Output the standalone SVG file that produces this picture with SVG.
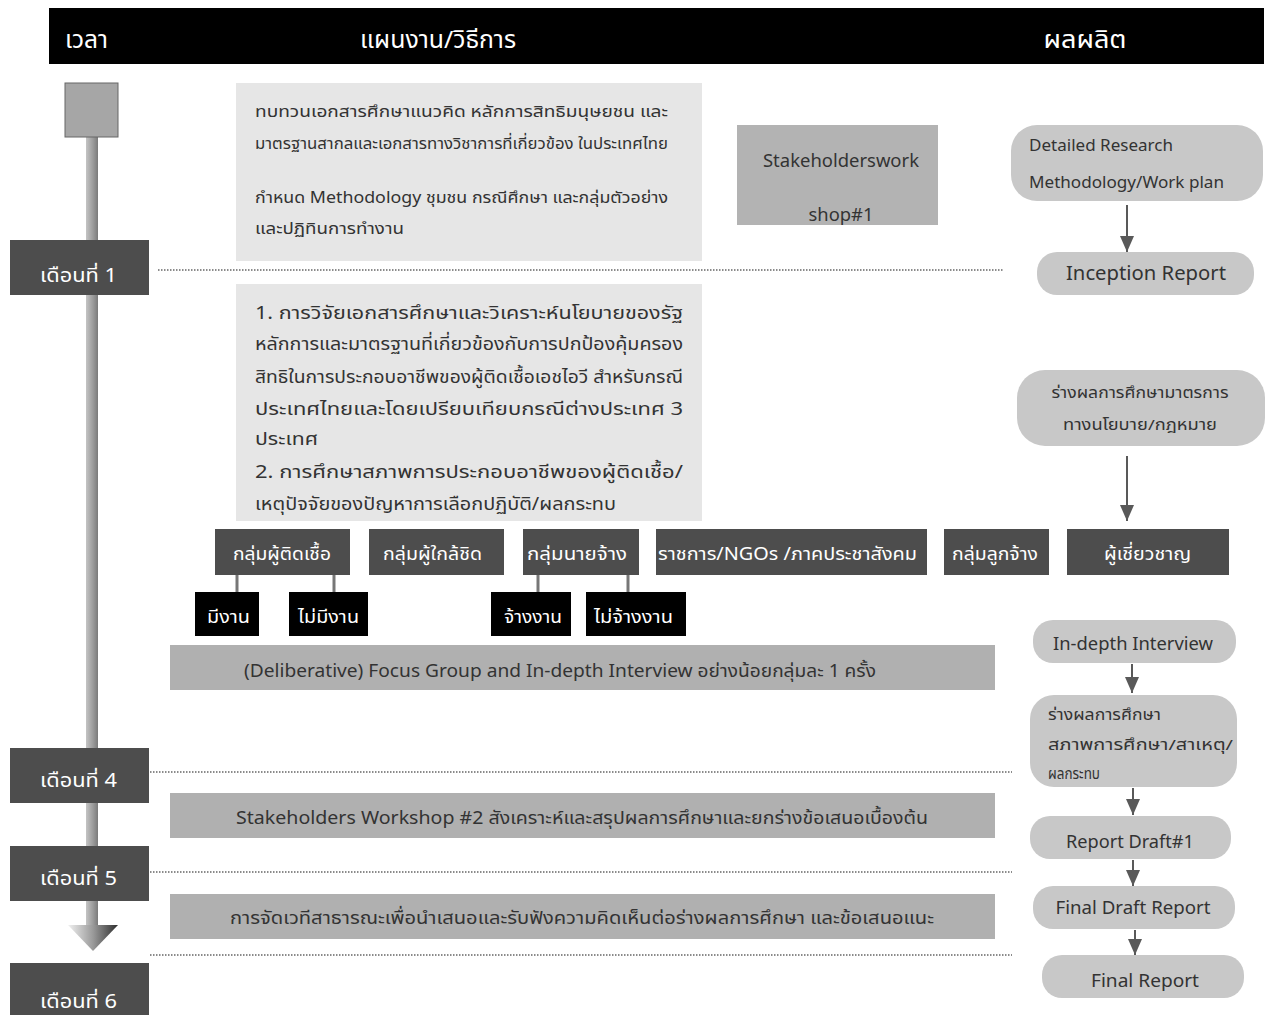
<svg xmlns="http://www.w3.org/2000/svg" width="1267" height="1015" viewBox="0 0 1267 1015">
<defs>
<style>
text{font-family:"Noto Sans","Noto Sans Thai","Liberation Sans",sans-serif;fill:#333}
.hd{fill:#fff;font-size:24px}
.mo{fill:#fff;font-size:19px}
.light{fill:#e6e6e6}
.bar{fill:#b0b0b0}
.node{fill:#c8c8c8}
.dark{fill:#4d4d4d}
.blk{fill:#000}
.wt{fill:#fff;font-size:18px}
.t15{font-size:16px}
.t16{font-size:15px}
.t18{font-size:18px}
.t20{font-size:20px}
.dot{stroke:#666;stroke-width:1.5;stroke-dasharray:1.5 1.5;fill:none}
.arr{stroke:#595959;stroke-width:2;fill:none;marker-end:url(#ah)}
.stub{stroke:#777;stroke-width:3}
</style>
<marker id="ah" markerUnits="userSpaceOnUse" markerWidth="18" markerHeight="14" refX="16" refY="7" orient="auto">
<path d="M0,0 L16,7 L0,14 Z" fill="#595959"/>
</marker>
<linearGradient id="gbar" x1="0" y1="0" x2="1" y2="0">
<stop offset="0" stop-color="#c4c4c4"/>
<stop offset="0.6" stop-color="#9a9a9a"/>
<stop offset="1" stop-color="#7a7a7a"/>
</linearGradient>
<linearGradient id="gtri" x1="0" y1="0" x2="1" y2="0">
<stop offset="0" stop-color="#f0f0f0"/>
<stop offset="0.5" stop-color="#9a9a9a"/>
<stop offset="1" stop-color="#2e2e2e"/>
</linearGradient>
</defs>

<g id="header">
<rect x="49" y="8" width="1215" height="56" fill="#000"/>
<text class="hd" x="65" y="48" textLength="43" lengthAdjust="spacingAndGlyphs">เวลา</text>
<text class="hd" x="438" y="48" text-anchor="middle" textLength="156" lengthAdjust="spacingAndGlyphs">แผนงาน/วิธีการ</text>
<text class="hd" x="1085" y="48" text-anchor="middle" textLength="83" lengthAdjust="spacingAndGlyphs">ผลผลิต</text>
</g>

<g id="timeline">
<rect x="86" y="137" width="12" height="790" fill="url(#gbar)"/>
<path d="M68,925 L118,925 L93,951 Z" fill="url(#gtri)"/>
<rect x="65" y="83" width="53" height="54" fill="#a6a6a6" stroke="#666" stroke-width="1"/>
</g>

<g id="connectors">
<line class="dot" x1="158" y1="270" x2="1003" y2="270"/>
<line class="dot" x1="150" y1="772" x2="1012" y2="772"/>
<line class="dot" x1="150" y1="872" x2="1012" y2="872"/>
<line class="dot" x1="150" y1="955" x2="1012" y2="955"/>
<line class="arr" x1="1127" y1="205" x2="1127" y2="252"/>
<line class="arr" x1="1127" y1="456" x2="1127" y2="521"/>
<line class="arr" x1="1132" y1="664" x2="1132" y2="693"/>
<line class="arr" x1="1133" y1="788" x2="1133" y2="815"/>
<line class="arr" x1="1133" y1="860" x2="1133" y2="886"/>
<line class="arr" x1="1135" y1="930" x2="1135" y2="955"/>
<line class="stub" x1="237" y1="575" x2="237" y2="592"/>
<line class="stub" x1="334" y1="575" x2="334" y2="592"/>
<line class="stub" x1="538" y1="575" x2="538" y2="592"/>
<line class="stub" x1="628" y1="575" x2="628" y2="592"/>
</g>

<g id="m1"><rect class="dark" x="10" y="240" width="139" height="55"/><text class="mo" x="40" y="282" textLength="77" lengthAdjust="spacingAndGlyphs">เดือนที่ 1</text></g>
<g id="m4"><rect class="dark" x="10" y="748" width="139" height="55"/><text class="mo" x="40" y="787" textLength="77" lengthAdjust="spacingAndGlyphs">เดือนที่ 4</text></g>
<g id="m5"><rect class="dark" x="10" y="846" width="139" height="55"/><text class="mo" x="40" y="885" textLength="77" lengthAdjust="spacingAndGlyphs">เดือนที่ 5</text></g>
<g id="m6"><rect class="dark" x="10" y="963" width="139" height="60"/><text class="mo" x="40" y="1008" textLength="77" lengthAdjust="spacingAndGlyphs">เดือนที่ 6</text></g>

<g id="box1">
<rect class="light" x="236" y="83" width="466" height="178"/>
<text class="t15" x="255" y="117" textLength="413" lengthAdjust="spacingAndGlyphs">ทบทวนเอกสารศึกษาแนวคิด  หลักการสิทธิมนุษยชน  และ</text>
<text class="t15" x="255" y="149" textLength="413" lengthAdjust="spacingAndGlyphs">มาตรฐานสากลและเอกสารทางวิชาการที่เกี่ยวข้อง ในประเทศไทย</text>
<text class="t15" x="255" y="203" textLength="413" lengthAdjust="spacingAndGlyphs">กำหนด Methodology ชุมชน กรณีศึกษา และกลุ่มตัวอย่าง</text>
<text class="t15" x="255" y="234" textLength="149" lengthAdjust="spacingAndGlyphs">และปฏิทินการทำงาน</text>
</g>

<g id="ws1">
<rect x="737" y="125" width="201" height="100" fill="#b3b3b3"/>
<text class="t18" x="841" y="167" text-anchor="middle" textLength="156" lengthAdjust="spacingAndGlyphs">Stakeholderswork</text>
<text class="t18" x="841" y="221" text-anchor="middle" textLength="65" lengthAdjust="spacingAndGlyphs">shop#1</text>
</g>

<g id="detailed">
<rect class="node" x="1011" y="125" width="252" height="76" rx="26"/>
<text class="t15" x="1029" y="151" textLength="144" lengthAdjust="spacingAndGlyphs">Detailed Research</text>
<text class="t15" x="1029" y="188" textLength="195" lengthAdjust="spacingAndGlyphs">Methodology/Work plan</text>
</g>

<g id="inception">
<rect class="node" x="1037" y="252" width="217" height="43" rx="20"/>
<text class="t20" x="1146" y="280" text-anchor="middle" textLength="160" lengthAdjust="spacingAndGlyphs">Inception Report</text>
</g>

<g id="box2">
<rect class="light" x="236" y="284" width="466" height="237"/>
<text class="t18" x="255" y="319" textLength="428" lengthAdjust="spacingAndGlyphs">1. การวิจัยเอกสารศึกษาและวิเคราะห์นโยบายของรัฐ</text>
<text class="t18" x="255" y="350" textLength="428" lengthAdjust="spacingAndGlyphs">หลักการและมาตรฐานที่เกี่ยวข้องกับการปกป้องคุ้มครอง</text>
<text class="t18" x="255" y="383" textLength="428" lengthAdjust="spacingAndGlyphs">สิทธิในการประกอบอาชีพของผู้ติดเชื้อเอชไอวี สำหรับกรณี</text>
<text class="t18" x="255" y="415" textLength="428" lengthAdjust="spacingAndGlyphs">ประเทศไทยและโดยเปรียบเทียบกรณีต่างประเทศ 3</text>
<text class="t18" x="255" y="445" textLength="63" lengthAdjust="spacingAndGlyphs">ประเทศ</text>
<text class="t18" x="255" y="478" textLength="428" lengthAdjust="spacingAndGlyphs">2. การศึกษาสภาพการประกอบอาชีพของผู้ติดเชื้อ/</text>
<text class="t18" x="255" y="510" textLength="361" lengthAdjust="spacingAndGlyphs">เหตุปัจจัยของปัญหาการเลือกปฏิบัติ/ผลกระทบ</text>
</g>

<g id="policy">
<rect class="node" x="1017" y="370" width="248" height="76" rx="28"/>
<text class="t16" x="1140" y="398" text-anchor="middle" textLength="177" lengthAdjust="spacingAndGlyphs">ร่างผลการศึกษามาตรการ</text>
<text class="t16" x="1140" y="430" text-anchor="middle" textLength="154" lengthAdjust="spacingAndGlyphs">ทางนโยบาย/กฎหมาย</text>
</g>

<g id="g1"><rect class="dark" x="215" y="529" width="135" height="46"/><text class="wt" x="233" y="560" textLength="98" lengthAdjust="spacingAndGlyphs">กลุ่มผู้ติดเชื้อ</text></g>
<g id="g2"><rect class="dark" x="369" y="529" width="135" height="46"/><text class="wt" x="383" y="560" textLength="99" lengthAdjust="spacingAndGlyphs">กลุ่มผู้ใกล้ชิด</text></g>
<g id="g3"><rect class="dark" x="523" y="529" width="116" height="46"/><text class="wt" x="527" y="560" textLength="100" lengthAdjust="spacingAndGlyphs">กลุ่มนายจ้าง</text></g>
<g id="g4"><rect class="dark" x="656" y="529" width="271" height="46"/><text class="wt" x="658" y="560" textLength="259" lengthAdjust="spacingAndGlyphs">ราชการ/NGOs /ภาคประชาสังคม</text></g>
<g id="g5"><rect class="dark" x="944" y="529" width="105" height="46"/><text class="wt" x="952" y="560" textLength="86" lengthAdjust="spacingAndGlyphs">กลุ่มลูกจ้าง</text></g>
<g id="g6"><rect class="dark" x="1067" y="529" width="162" height="46"/><text class="wt" x="1104" y="560" textLength="87" lengthAdjust="spacingAndGlyphs">ผู้เชี่ยวชาญ</text></g>

<g id="s1"><rect class="blk" x="195" y="592" width="64" height="44"/><text class="wt" x="207" y="623" textLength="43" lengthAdjust="spacingAndGlyphs">มีงาน</text></g>
<g id="s2"><rect class="blk" x="289" y="592" width="79" height="44"/><text class="wt" x="298" y="623" textLength="61" lengthAdjust="spacingAndGlyphs">ไม่มีงาน</text></g>
<g id="s3"><rect class="blk" x="491" y="592" width="80" height="44"/><text class="wt" x="504" y="623" textLength="58" lengthAdjust="spacingAndGlyphs">จ้างงาน</text></g>
<g id="s4"><rect class="blk" x="586" y="592" width="100" height="44"/><text class="wt" x="594" y="623" textLength="79" lengthAdjust="spacingAndGlyphs">ไม่จ้างงาน</text></g>

<g id="focus">
<rect class="bar" x="170" y="645" width="825" height="45"/>
<text class="t18" x="244" y="677" textLength="632" lengthAdjust="spacingAndGlyphs">(Deliberative) Focus Group and In-depth Interview อย่างน้อยกลุ่มละ 1 ครั้ง</text>
</g>

<g id="indepth">
<rect class="node" x="1033" y="620" width="203" height="43" rx="20"/>
<text class="t18" x="1133" y="650" text-anchor="middle" textLength="160" lengthAdjust="spacingAndGlyphs">In-depth Interview</text>
</g>

<g id="draftstudy">
<rect class="node" x="1030" y="695" width="207" height="92" rx="24"/>
<text class="t16" x="1048" y="720" textLength="113" lengthAdjust="spacingAndGlyphs">ร่างผลการศึกษา</text>
<text class="t16" x="1048" y="750" textLength="185" lengthAdjust="spacingAndGlyphs">สภาพการศึกษา/สาเหตุ/</text>
<text class="t16" x="1048" y="779" textLength="52" lengthAdjust="spacingAndGlyphs">ผลกระทบ</text>
</g>

<g id="ws2">
<rect class="bar" x="170" y="793" width="825" height="45"/>
<text class="t18" x="236" y="824" textLength="692" lengthAdjust="spacingAndGlyphs">Stakeholders Workshop #2 สังเคราะห์และสรุปผลการศึกษาและยกร่างข้อเสนอเบื้องต้น</text>
</g>

<g id="draft1">
<rect class="node" x="1030" y="816" width="201" height="43" rx="20"/>
<text class="t18" x="1130" y="848" text-anchor="middle" textLength="128" lengthAdjust="spacingAndGlyphs">Report Draft#1</text>
</g>

<g id="forum">
<rect class="bar" x="170" y="894" width="825" height="45"/>
<text class="t18" x="230" y="924" textLength="704" lengthAdjust="spacingAndGlyphs">การจัดเวทีสาธารณะเพื่อนำเสนอและรับฟังความคิดเห็นต่อร่างผลการศึกษา และข้อเสนอแนะ</text>
</g>

<g id="finaldraft">
<rect class="node" x="1033" y="886" width="202" height="43" rx="20"/>
<text class="t18" x="1133" y="914" text-anchor="middle" textLength="155" lengthAdjust="spacingAndGlyphs">Final Draft Report</text>
</g>

<g id="final">
<rect class="node" x="1042" y="955" width="202" height="43" rx="20"/>
<text class="t18" x="1145" y="987" text-anchor="middle" textLength="108" lengthAdjust="spacingAndGlyphs">Final Report</text>
</g>
</svg>
